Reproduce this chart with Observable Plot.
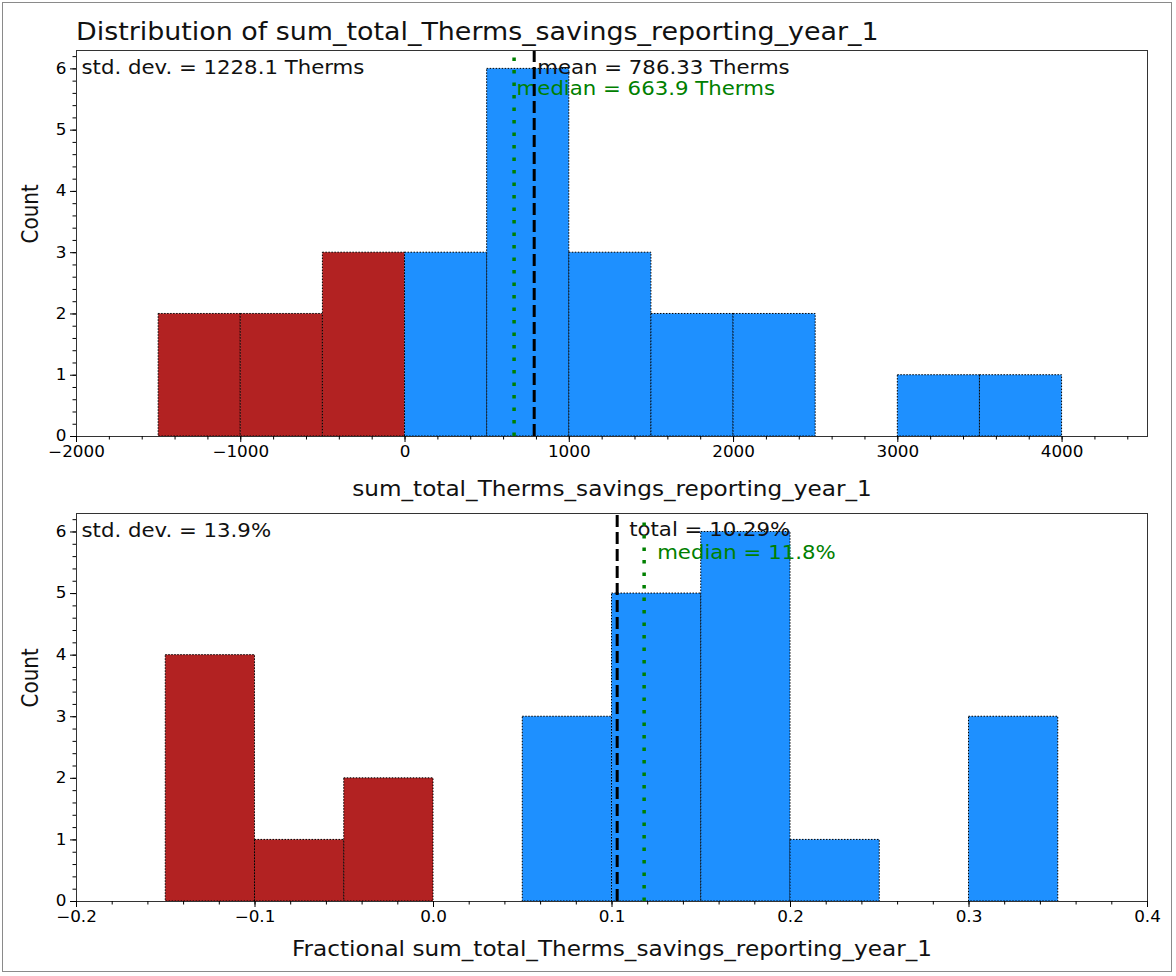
<!DOCTYPE html>
<html><head><meta charset="utf-8">
<script src="https://cdn.jsdelivr.net/npm/d3@7"></script>
<script src="https://cdn.jsdelivr.net/npm/@observablehq/plot@0.6"></script>
<style>
body{margin:0;background:#fff;}
#wrap{position:relative;width:1176px;height:976px;overflow:hidden;font-family:"DejaVu Sans";background:#fff;}
#border{position:absolute;left:2px;top:2px;width:1168px;height:968px;border:1.5px solid #8a8a8a;}
#title{position:absolute;left:76px;top:20px;font-size:24px;line-height:24px;white-space:nowrap;transform-origin:0 0;color:#111;}
.panel{position:absolute;left:0;}
</style></head>
<body><div id="wrap"><div id="border"></div><div id="title"></div>
<div id="p1" class="panel" style="top:0px"></div>
<div id="p2" class="panel" style="top:505px"></div></div>
<script>
const SX = 1.12; // horizontal text stretch seen in the reference
const RED = "#B22222", BLUE = "#1E90FF", GREEN = "#008000";

const titleText = "Distribution of sum_total_Therms_savings_reporting_year_1";

// Top panel (absolute savings)
const topBinStarts = [-2000,-1500,-1000,-500,0,500,1000,1500,2000,2500,3000,3500];
const topCounts    = [0,2,2,3,3,6,3,2,2,0,1,1];
const topBinWidth  = 500;
const topMean = 786.33, topMedian = 663.9;
const topXTicks = [-2000,-1000,0,1000,2000,3000,4000];
const topXLabel = "sum_total_Therms_savings_reporting_year_1";
const topStdText = "std. dev. = 1228.1 Therms";
const topMeanText = "mean = 786.33 Therms";
const topMedianText = "median = 663.9 Therms";

// Bottom panel (fractional savings)
const botBinStarts = [-0.2,-0.15,-0.1,-0.05,0,0.05,0.1,0.15,0.2,0.25,0.3,0.35];
const botCounts    = [0,4,1,2,0,3,5,6,1,0,3,0];
const botBinWidth  = 0.05;
const botTotal = 0.1029, botMedian = 0.118;
const botXTicks = [-0.2,-0.1,0,0.1,0.2,0.3,0.4];
const botXLabel = "Fractional sum_total_Therms_savings_reporting_year_1";
const botStdText = "std. dev. = 13.9%";
const botTotalText = "total = 10.29%";
const botMedianText = "median = 11.8%";

const yTicks = [0,1,2,3,4,5,6];
const yLabel = "Count";

document.getElementById("title").textContent = titleText;
document.getElementById("title").style.transform = `scaleX(${SX})`;

function stretch(svg) {
  svg.querySelectorAll("text").forEach(t => {
    const tr = t.getAttribute("transform");
    if (tr && /^\s*translate\(/.test(tr)) {
      t.setAttribute("transform", tr.replace(/^(\s*translate\([^)]*\))/, `$1 scale(${SX},1)`));
    } else {
      const x = +(t.getAttribute("x") || 0);
      t.setAttribute("transform", `translate(${x},0) scale(${SX},1) translate(${-x},0)` + (tr ? " " + tr : ""));
    }
  });
}

function panel(o) {
  const bins = o.starts.map((s, i) => ({x1: s, x2: s + o.bw, count: o.counts[i]}));
  const red = bins.filter(b => b.count > 0 && b.x1 < 0);
  const blue = bins.filter(b => b.count > 0 && b.x1 >= 0);
  const empty = bins.filter(b => b.count === 0);
  const dot = "1.5,1.5";
  const svg = Plot.plot({
    width: 1176, height: o.height,
    marginLeft: 76, marginRight: 29, marginTop: o.marginTop, marginBottom: o.marginBottom,
    style: {fontFamily: '"DejaVu Sans"', background: "transparent", overflow: "visible", fontSize: "15px", color: "black"},
    x: {domain: o.xDomain, label: null},
    y: {domain: [0, 6.3], label: null},
    marks: [
      Plot.rectY(red, {x1: "x1", x2: "x2", y: "count", fill: RED, stroke: "black", strokeWidth: 1, strokeDasharray: dot}),
      Plot.rectY(blue, {x1: "x1", x2: "x2", y: "count", fill: BLUE, stroke: "black", strokeWidth: 1, strokeDasharray: dot}),
      Plot.ruleY(empty, {x1: "x1", x2: "x2", y: 0, stroke: "black", strokeWidth: 1, strokeDasharray: dot}),
      Plot.text([o.stdText], {frameAnchor: "top-left", dx: 5, dy: 23, lineAnchor: "bottom", textAnchor: "start", fontSize: 19, fill: "#111"}),
      Plot.text([o.statText], {x: () => o.stat, frameAnchor: "top", dx: o.statDx, dy: o.statDy, lineAnchor: "bottom", textAnchor: "start", fontSize: 19, fill: "#111"}),
      Plot.text([o.medText], {x: () => o.median, frameAnchor: "top", dx: o.medDx, dy: o.medDy, lineAnchor: "bottom", textAnchor: "start", fontSize: 19, fill: GREEN}),
      Plot.ruleX([o.stat], {x: d => d, y1: 0, y2: 6.3, stroke: "black", strokeWidth: 3, strokeDasharray: "12,5"}),
      Plot.ruleX([o.median], {x: d => d, y1: 0, y2: 6.3, stroke: GREEN, strokeWidth: 3.5, strokeDasharray: "3.5,9"}),
      Plot.frame({stroke: "#333", strokeWidth: 1}),
      Plot.axisX(o.xTicks, {tickSize: 6, tickPadding: 4, tickFormat: o.xFormat, label: null}),
      Plot.axisX(o.xMinor, {tickSize: 3.5, tickFormat: () => "", label: null}),
      Plot.axisY(yTicks, {tickSize: 6, tickPadding: 4, tickFormat: d => String(d), label: null}),
      Plot.axisY(d3.range(0, 6.3, 0.2), {tickSize: 3.5, tickFormat: () => "", label: null}),
      Plot.text([o.xLabel], {frameAnchor: "bottom", dy: o.xLabelDy, lineAnchor: "middle", fontSize: 20.7, fill: "#111"}),
      Plot.text([yLabel], {frameAnchor: "left", dx: -46, rotate: -90, lineAnchor: "middle", fontSize: 20, fill: "#111"})
    ]
  });
  stretch(svg);
  return svg;
}

const fmtTop = d => (d < 0 ? "\u2212" : "") + Math.abs(d);
const fmtBot = d3.format(".1f");

document.getElementById("p1").appendChild(panel({
  starts: topBinStarts, counts: topCounts, bw: topBinWidth,
  height: 505, marginTop: 50, marginBottom: 69,
  xDomain: [-2000, 4520], xTicks: topXTicks, xMinor: d3.range(-2000, 4520, 200), xFormat: fmtTop,
  xLabel: topXLabel, xLabelDy: 53,
  stdText: topStdText, statText: topMeanText, stat: topMean, statDx: 3, statDy: 23,
  medText: topMedianText, median: topMedian, medDx: 2.5, medDy: 44
}));

document.getElementById("p2").appendChild(panel({
  starts: botBinStarts, counts: botCounts, bw: botBinWidth,
  height: 471, marginTop: 8, marginBottom: 75,
  xDomain: [-0.2, 0.4], xTicks: botXTicks, xMinor: d3.range(-0.2, 0.4001, 0.02), xFormat: fmtBot,
  xLabel: botXLabel, xLabelDy: 48,
  stdText: botStdText, statText: botTotalText, stat: botTotal, statDx: 12, statDy: 22,
  medText: botMedianText, median: botMedian, medDx: 13, medDy: 45
}));
</script>
</body></html>
